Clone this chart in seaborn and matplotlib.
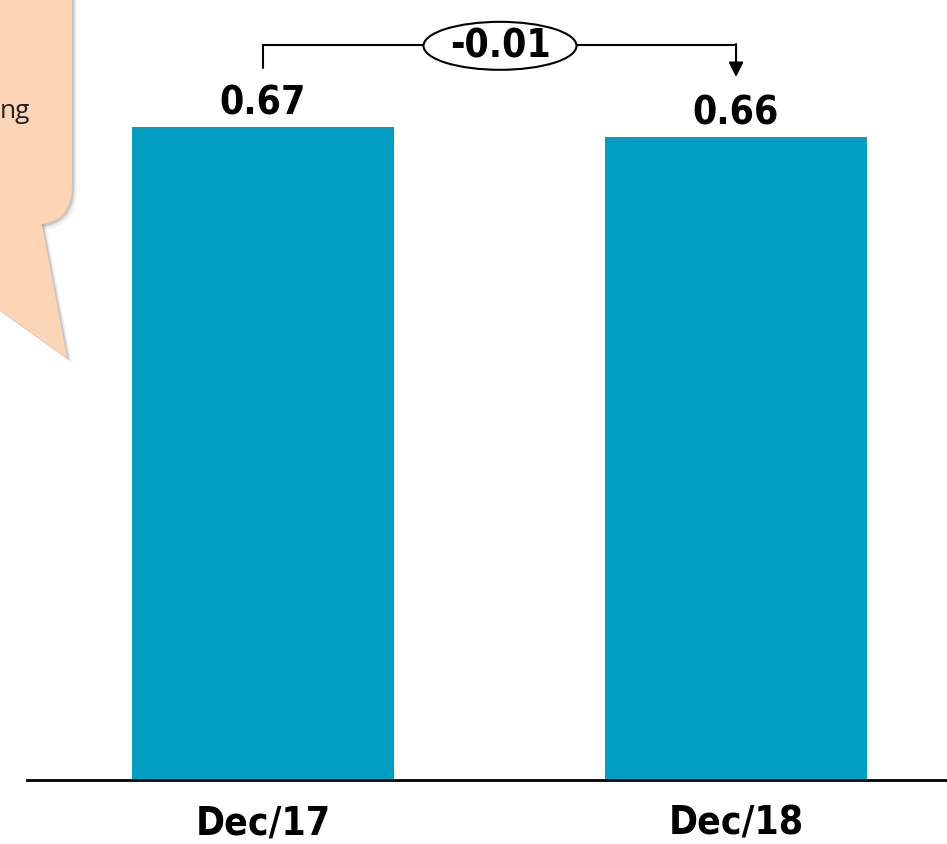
import matplotlib
matplotlib.use("Agg")
import matplotlib.pyplot as plt
from matplotlib.patches import FancyBboxPatch, Polygon, Ellipse
from matplotlib.transforms import Affine2D
import seaborn as sns
import pandas as pd

periods = ["Dec/17", "Dec/18"]
values = [0.67, 0.66]
change_label = "-0.01"
note_text = "ng"

BAR_COLOR = "#009EC3"
NOTE_COLOR = "#FBD5B5"

sns.set_theme(style="white")
plt.rcParams["font.family"] = ["DejaVu Sans"]
plt.rcParams["font.stretch"] = "condensed"

W, H = 947, 844
fig = plt.figure(figsize=(W / 100, H / 100), dpi=100)
ax = fig.add_axes([27 / W, 64 / H, 920 / W, 780 / H])

df = pd.DataFrame({"period": periods, "value": values})
sns.barplot(data=df, x="period", y="value", color=BAR_COLOR, saturation=1,
            width=0.554, ax=ax, edgecolor="none")

ax.set_ylim(0, 0.8)
ax.set_xlim(-0.499, 1.446)
for s in ["top", "right", "left"]:
    ax.spines[s].set_visible(False)
ax.spines["bottom"].set_color("black")
ax.spines["bottom"].set_linewidth(2)
ax.set_yticks([])
ax.set_xlabel("")
ax.set_ylabel("")
# baseline of the category labels ~54 px below the axis line
ax.tick_params(axis="x", length=0, pad=54 * 0.72)
for lbl in ax.get_xticklabels():
    lbl.set_fontsize(28)
    lbl.set_fontweight("bold")
    lbl.set_fontstretch("condensed")
    lbl.set_color("black")
    lbl.set_verticalalignment("baseline")

LBL = dict(fontsize=28, fontweight="bold", fontstretch="condensed", color="black")

# value labels above each bar
for i, v in enumerate(values):
    ax.text(i, v + 0.0125, f"{v:.2f}", ha="center", va="baseline", **LBL)

# change bracket between the two bars
y_br = 0.754
ax.plot([0, 0, 0.5], [0.730, y_br, y_br], color="black", lw=1.5,
        solid_joinstyle="miter", clip_on=False)
ax.plot([0.5, 1], [y_br, y_br], color="black", lw=1.5, clip_on=False)
ax.annotate("", xy=(1, 0.721), xytext=(1, y_br + 0.0008),
            arrowprops=dict(arrowstyle="-|>", color="black", lw=1.5,
                            mutation_scale=22, shrinkA=0, shrinkB=0),
            annotation_clip=False)
ax.add_patch(Ellipse((0.501, 0.753), 0.3235, 0.0492, facecolor="white",
                     edgecolor="black", lw=1.5, clip_on=False, zorder=5))
ax.text(0.501, 0.752, change_label, ha="center", va="center", zorder=6, **LBL)

# callout note in the top-left corner, laid out in pixels from the top-left
pix = Affine2D().scale(1, -1).translate(0, H)


def callout(dx, dy, **kw):
    box = FancyBboxPatch((-80 + dx, -60 + dy), 152, 285,
                         boxstyle="round,pad=0,rounding_size=40",
                         transform=pix, edgecolor="none", **kw)
    tail = Polygon([(-125 + dx, 221 + dy), (41.2 + dx, 221 + dy), (67 + dx, 358 + dy)],
                   closed=True, transform=pix, edgecolor="none", **kw)
    fig.patches.extend([box, tail])


for off, a in [(5, 0.08), (3, 0.14), (2, 0.18)]:
    callout(off, off, facecolor="#606060", alpha=a)
callout(0, 0, facecolor=NOTE_COLOR)

fig.text(30 / W, 1 - 118 / H, note_text, ha="right", va="baseline", fontsize=19,
         family=["Open Sans", "DejaVu Sans"], fontstretch="normal", color="#222222")

fig.savefig("out.png", dpi=100)
